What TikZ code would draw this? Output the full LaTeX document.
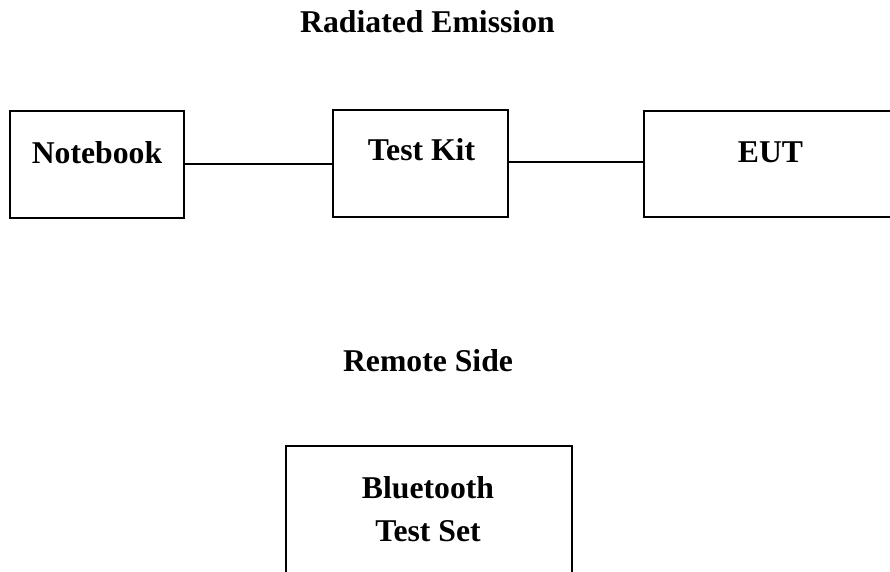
\documentclass[tikz,border=0pt]{standalone}
\usepackage{fontspec}
\setmainfont{Liberation Serif}
\usepackage{tikz}
\tikzstyle{unit}=[rectangle,draw=black,line width=1.3pt,inner sep=0]
\tikzset{
  caption/.style={
    anchor=base,
    inner sep=0,
    font=\fontsize{31.7}{39}\selectfont\bfseries
  }
}
\tikzset{wire/.style={line width=1.3pt}}

\begin{document}
\begin{tikzpicture}[x=1pt,y=-1pt]
\useasboundingbox (0,0) rectangle (890,571);

\node[unit,minimum width=174pt,minimum height=107pt] (nb) at (97,164.5) {};
\node[unit,minimum width=175pt,minimum height=107pt] (tk) at (420.5,163.5) {};
\node[unit,minimum width=252pt,minimum height=106pt] (eut) at (770,164) {};
\node[unit,minimum width=286pt,minimum height=160pt] (bt) at (429,526) {};

\draw[wire] ([yshift=0.5pt]nb.east) -- ([yshift=0.5pt]nb.east -| tk.west);
\draw[wire] ([yshift=1.5pt]tk.east) -- ([yshift=1.5pt]tk.east -| eut.west);

\node[caption] (ttl) at (427.5,32) {Radiated Emission};
\node[caption] (nbt) at (97,163) {Notebook};
\node[caption] (tkt) at (421.5,160) {Test Kit};
\node[caption] (eutt) at (770.5,162) {EUT};
\node[caption] (rst) at (428,371) {Remote Side};
\node[caption] (btt) at (428,498) {Bluetooth};
\node[caption] (tst) at (428,541) {Test Set};

\end{tikzpicture}
\end{document}
